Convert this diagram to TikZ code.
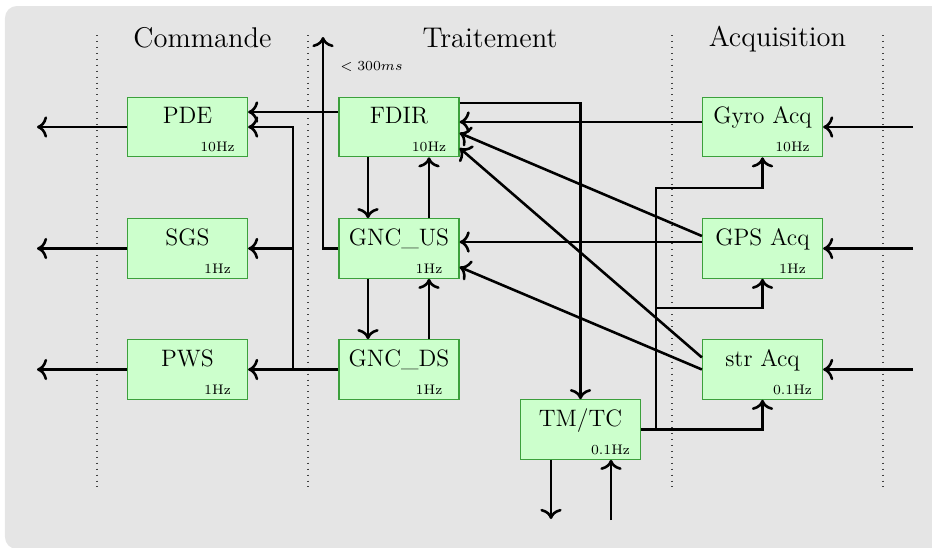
\documentclass[tikz,border=0pt]{standalone}
\usetikzlibrary{calc,arrows.meta}
\definecolor{bggray}{HTML}{E5E5E5}
\definecolor{modfill}{HTML}{CCFFCC}
\definecolor{moddraw}{HTML}{3CA03C}
\newcommand\mymodule[5]{%
  \node[modbox] (#1) at (#2,#3) {};
  \node[modname] (#1-t) at (#2,#3-3.5) {#4};
  \node[modfreq] (#1-f) at (#2+30,#3+24.5) {#5};
}
\begin{document}
\begin{tikzpicture}[x=0.505pt,y=-0.505pt,
  modbox/.style={draw=moddraw, fill=modfill, line width=0.6pt, minimum width=60.6pt, minimum height=30pt, inner sep=0pt},
  modname/.style={anchor=base, font=\large, inner sep=0pt},
  modfreq/.style={anchor=base, font=\scriptsize, inner sep=0pt},
  title/.style={anchor=base, font=\Large, inner sep=0pt},
  conn/.style={line width=1.3pt, -{To[scale=1.15]}},
  sep/.style={dash pattern=on 0.5pt off 2.5pt, line width=0.6pt, black!75}]
\useasboundingbox (0,0) rectangle (932,548);
\fill[bggray, rounded corners=6pt] (5,6) rectangle (980,549);

% separators
\draw[sep] (97,35) -- (97,490);
\draw[sep] (308,35) -- (308,490);
\draw[sep] (672,35) -- (672,490);
\draw[sep] (883,35) -- (883,490);

% titles
\node[title] (tcmd) at (202.5,47) {Commande};
\node[title] (ttrt) at (490,47) {Traitement};
\node[title] (tacq) at (777.5,46) {Acquisition};

% modules
\mymodule{pde}{187.5}{127}{PDE}{10Hz}
\mymodule{sgs}{187.5}{248.5}{SGS}{1Hz}
\mymodule{pws}{187.5}{369.5}{PWS}{1Hz}
\mymodule{fdir}{399}{127}{FDIR}{10Hz}
\mymodule{gncus}{399}{248.5}{GNC\_US}{1Hz}
\mymodule{gncds}{399}{369.5}{GNC\_DS}{1Hz}
\mymodule{gyro}{762.5}{127}{Gyro Acq}{10Hz}
\mymodule{gps}{762.5}{248.5}{GPS Acq}{1Hz}
\mymodule{str}{762.5}{369.5}{str Acq}{0.1Hz}
\mymodule{tmtc}{580.5}{429.5}{TM/TC}{0.1Hz}

% free ends
\coordinate (pdeout) at (37,127);
\coordinate (sgsout) at (37,248.5);
\coordinate (pwsout) at (37,369.5);
\coordinate (gyin) at (913,127);
\coordinate (gpsin) at (913,248.5);
\coordinate (strin) at (913,369.5);
\coordinate (up) at (323,37);
\coordinate (j1) at (293,369.5);
\coordinate (j2) at (656,429.5);
\coordinate (k1) at (656,188);
\coordinate (k2) at (656,308);
\coordinate (tmout) at (551,519);
\coordinate (tmin) at (611,520);

% outputs
\draw[conn] (pde.west) -- (pdeout);
\draw[conn] (sgs.west) -- (sgsout);
\draw[conn] (pws.west) -- (pwsout);

% inputs
\draw[conn] (gyin) -- (gyro.east);
\draw[conn] (gpsin) -- (gps.east);
\draw[conn] (strin) -- (str.east);

% traitement -> commande
\draw[conn] ($(fdir.west)+(0,-15)$) -- ($(pde.east)+(0,-15)$);
\draw[conn] (gncds.west) -- (pws.east);
\draw[conn] (j1) |- (sgs.east);
\draw[conn] (j1) |- (pde.east);

% GNC_US up
\draw[conn] (gncus.west) -| (up);
\node[anchor=west, font=\scriptsize, inner sep=0pt] (lat) at (340,67) {$<300ms$};

% vertical links
\draw[conn] ($(fdir.south)+(-31,0)$) -- ($(gncus.north)+(-31,0)$);
\draw[conn] ($(gncus.north)+(30,0)$) -- ($(fdir.south)+(30,0)$);
\draw[conn] ($(gncus.south)+(-31,0)$) -- ($(gncds.north)+(-31,0)$);
\draw[conn] ($(gncds.north)+(30,0)$) -- ($(gncus.south)+(30,0)$);

% FDIR -> TM/TC
\draw[conn] ($(fdir.east)+(0,-24)$) -| (tmtc.north);

% acquisition -> traitement
\draw[conn] ($(gyro.west)+(0,-5)$) -- ($(fdir.east)+(0,-5)$);
\draw[conn] ($(gps.west)+(0,-12.5)$) -- ($(fdir.east)+(0,6)$);
\draw[conn] ($(str.west)+(0,-12)$) -- ($(fdir.east)+(0,21)$);
\draw[conn] ($(gps.west)+(0,-6.5)$) -- ($(gncus.east)+(0,-6.5)$);
\draw[conn] (str.west) -- ($(gncus.east)+(0,18.5)$);

% TM/TC -> acquisition
\draw[conn] (tmtc.east) -| (str.south);
\draw[conn] (j2) -- (k1) -| (gyro.south);
\draw[conn] (k2) -| (gps.south);

% TM/TC bottom
\draw[conn] (tmtc.south -| tmout) -- (tmout);
\draw[conn] (tmin) -- (tmin |- tmtc.south);
\end{tikzpicture}
\end{document}
